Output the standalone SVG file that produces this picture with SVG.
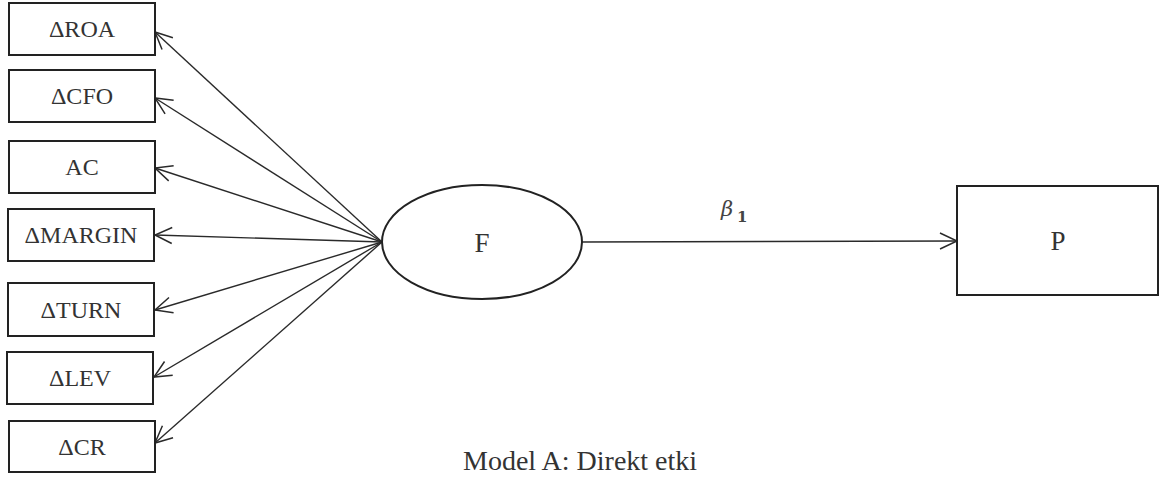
<svg xmlns="http://www.w3.org/2000/svg" width="1160" height="481" viewBox="0 0 1160 481">
<style>
  .box { fill: #ffffff; stroke: #222222; stroke-width: 2; }
  .lbl { font-family: "Liberation Serif", "Times New Roman", serif; font-size: 24px; fill: #333333; text-anchor: middle; }
  .big { font-size: 27px; }
  .conn { stroke: #2a2a2a; stroke-width: 1.4; fill: none; marker-end: url(#arr); }
  .cap { font-family: "Liberation Serif", "Times New Roman", serif; font-size: 28px; fill: #333333; }
</style>
<defs>
  <marker id="arr" markerUnits="userSpaceOnUse" markerWidth="24" markerHeight="24" viewBox="-20 -12 24 24" refX="0" refY="0" orient="auto">
    <path d="M -17 -8 L 0 0 L -17 8" fill="none" stroke="#2a2a2a" stroke-width="1.5"/>
  </marker>
</defs>
<rect width="1160" height="481" fill="#ffffff"/>
<g id="connectors">
  <line class="conn" x1="382" y1="242" x2="155" y2="32"/>
  <line class="conn" x1="382" y1="242" x2="155" y2="98"/>
  <line class="conn" x1="382" y1="242" x2="155" y2="168"/>
  <line class="conn" x1="382" y1="242" x2="155" y2="235"/>
  <line class="conn" x1="382" y1="242" x2="155" y2="310"/>
  <line class="conn" x1="382" y1="242" x2="154" y2="377"/>
  <line class="conn" x1="382" y1="242" x2="155" y2="443"/>
  <line class="conn" x1="582" y1="242" x2="957" y2="241"/>
  <text x="721" y="216" font-family="DejaVu Serif, serif" font-style="italic" font-size="21" fill="#444444">β<tspan x="737" y="222" font-style="normal" font-weight="bold" font-size="15">1</tspan></text>
</g>
<g id="n-roa"><rect class="box" x="9" y="3" width="146" height="52"/><text class="lbl" x="82" y="37">ΔROA</text></g>
<g id="n-cfo"><rect class="box" x="9" y="70" width="146" height="52"/><text class="lbl" x="82" y="104">ΔCFO</text></g>
<g id="n-ac"><rect class="box" x="9" y="141" width="146" height="52"/><text class="lbl" x="82" y="175">AC</text></g>
<g id="n-margin"><rect class="box" x="8" y="209" width="146" height="52"/><text class="lbl" x="81" y="243">ΔMARGIN</text></g>
<g id="n-turn"><rect class="box" x="8" y="283" width="146" height="53"/><text class="lbl" x="81" y="318">ΔTURN</text></g>
<g id="n-lev"><rect class="box" x="7" y="352" width="146" height="52"/><text class="lbl" x="80" y="386">ΔLEV</text></g>
<g id="n-cr"><rect class="box" x="9" y="421" width="146" height="51"/><text class="lbl" x="82" y="455">ΔCR</text></g>
<g id="n-f"><ellipse class="box" cx="482" cy="242" rx="100" ry="57"/><text class="lbl big" x="482" y="252">F</text></g>
<g id="n-p"><rect class="box" x="957" y="186" width="201" height="109"/><text class="lbl big" x="1058" y="250">P</text></g>
<text class="cap" x="463" y="470">Model A: Direkt etki</text>
</svg>
